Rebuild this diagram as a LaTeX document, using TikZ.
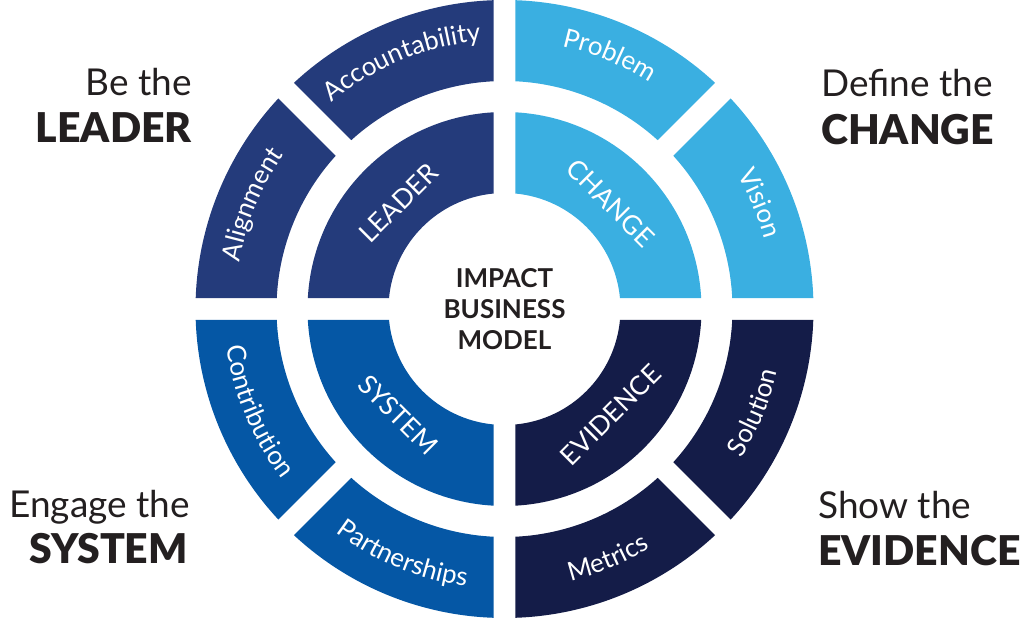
\documentclass[tikz,border=0pt]{standalone}
\usepackage{fontspec}
\setmainfont{Lato}
\newfontfamily\heavyfont{Lato Black}
\usepackage{tikz}
\usetikzlibrary{decorations.text}
\definecolor{leaderblue}{HTML}{243B7B}
\definecolor{changeblue}{HTML}{3AAFE1}
\definecolor{systemblue}{HTML}{0557A5}
\definecolor{evidenceblue}{HTML}{141C48}
\definecolor{inkblack}{HTML}{231F20}
\newcommand{\ringfont}{\fontsize{26}{26}\selectfont}
\def\gap{11}
\tikzset{
    tagline/.style={inner sep=0pt, text=inkblack, font=\fontsize{37}{37}\selectfont},
    tagword/.style={inner sep=0pt, text=inkblack, font=\heavyfont\fontsize{41}{41}\selectfont},
    innerlabel/.style={inner sep=0pt, text=white, font=\fontsize{26.5}{26.5}\selectfont},
    corelabel/.style={inner sep=0pt, text=inkblack, align=center, font=\bfseries\fontsize{26}{31}\selectfont},
    ringtext/.style={decorate, decoration={text along path, text={|\ringfont|#1},
        text align=center, text color=white}}
}
% color, from, to, inner radius, outer radius
\newcommand{\ringpart}[5]{%
    \pgfmathsetmacro{\ao}{#2+asin(\gap/#5)}
    \pgfmathsetmacro{\bo}{#3-asin(\gap/#5)}
    \pgfmathsetmacro{\ai}{#2+asin(\gap/#4)}
    \pgfmathsetmacro{\bi}{#3-asin(\gap/#4)}
    \fill[#1] (\ao:#5pt) arc[start angle=\ao, end angle=\bo, radius=#5pt]
        -- (\bi:#4pt) arc[start angle=\bi, end angle=\ai, radius=#4pt] -- cycle;
}
\newcommand{\overtext}[2]{\path[ringtext=#1] ({#2+40}:269pt) arc[start angle=#2+40, end angle=#2-40, radius=269pt];}
\newcommand{\undertext}[2]{\path[ringtext=#1] ({#2-40}:280pt) arc[start angle=#2-40, end angle=#2+40, radius=280pt];}
\begin{document}
\begin{tikzpicture}[x=1pt,y=1pt]
    \useasboundingbox (-504.5,-311) rectangle (519.5,309);
    \foreach \col/\a in {changeblue/0, leaderblue/90, systemblue/180, evidenceblue/270}{
        \ringpart{\col}{\a}{\a+90}{116}{197}
        \ringpart{\col}{\a}{\a+45}{228}{309}
        \ringpart{\col}{\a+45}{\a+90}{228}{309}
    }
    \node[corelabel] (core) at (0,0) {IMPACT\\BUSINESS\\MODEL};
    \foreach \name/\a/\rot in {CHANGE/45/-45, LEADER/135/45, SYSTEM/225/-45, EVIDENCE/315/45}
        \node[innerlabel, rotate=\rot] (\name) at (\a:150pt) {\name};
    \overtext{Vision}{22.5}
    \overtext{Problem}{67.5}
    \overtext{Accountability}{112.5}
    \overtext{Alignment}{157.5}
    \undertext{Contribution}{202.5}
    \undertext{Partnerships}{247.5}
    \undertext{Metrics}{292.5}
    \undertext{Solution}{337.5}
    \node[tagline, anchor=base east] (leaderpre) at (-312.5,213) {Be the};
    \node[tagword, anchor=base east] (leaderword) at (-312.5,166) {LEADER};
    \node[tagline, anchor=base west] (changepre) at (316.5,212) {Define the};
    \node[tagword, anchor=base west] (changeword) at (316.5,164) {CHANGE};
    \node[tagline, anchor=base east] (systempre) at (-314.5,-208) {Engage the};
    \node[tagword, anchor=base east] (systemword) at (-316.5,-254) {SYSTEM};
    \node[tagline, anchor=base west] (evidencepre) at (313.5,-209) {Show the};
    \node[tagword, anchor=base west] (evidenceword) at (313.5,-256) {EVIDENCE};
\end{tikzpicture}
\end{document}
